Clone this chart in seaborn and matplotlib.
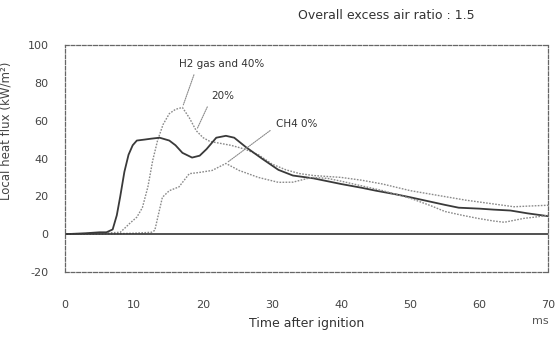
import matplotlib
matplotlib.use("Agg")
import matplotlib.pyplot as plt
import seaborn as sns
import pandas as pd

# ---- data ----
t_20 = [0, 3, 5, 6, 6.9, 7.5, 8, 8.6, 9.2, 9.8, 10.4, 11.5, 12.5, 13.7, 15.1, 16, 17,
        18.4, 19.5, 20.5, 21.9, 23.3, 24.5, 26.2, 28.5, 30.9, 33, 36, 38, 40, 43, 45,
        48, 50, 52.5, 55, 57, 60, 62, 64.5, 67, 70]
v_20 = [0, 0.5, 1, 1, 2.5, 10, 20, 33, 42, 47, 49.5, 50, 50.5, 51, 49.5, 47, 43,
        40.5, 41.5, 45, 51, 52, 51, 46, 40, 34, 31, 29.5, 28, 26.5, 24.5, 23,
        21, 19.5, 17.5, 15.5, 14, 13.5, 13, 12.5, 11, 9.5]

t_h2 = [0, 5, 8, 8.6, 9.4, 10.4, 11.2, 12, 12.7, 13.4, 14.2, 15.1, 16, 17, 18, 19,
        20, 21, 22.5, 24, 26, 28, 30, 32, 34, 36, 38, 40, 43, 46, 50, 54, 58, 62,
        65, 68, 70]
v_h2 = [0, 0.5, 1, 3, 5.8, 9, 14, 25, 39, 49.5, 58, 63.7, 66, 67, 61.5, 54.7,
        51, 49, 48, 47, 45, 42, 37, 34, 32, 31, 30.5, 30, 28.5, 26.5, 23, 20.5, 18, 16,
        14.5, 15, 15.3]

t_ch4 = [0, 5, 10, 12.5, 13, 13.5, 14.1, 15.1, 16.5, 18, 19.4, 21.3, 23.3, 25.2, 28,
         30.9, 33, 35.7, 38, 40, 43, 46, 50, 53, 55, 57.5, 59.7, 62, 63.6, 66.5, 68, 70]
v_ch4 = [0, 0, 0.5, 1, 2, 10, 19.5, 23, 25, 32, 32.6, 33.7, 37.4, 33.7, 30,
         27.4, 27.5, 30, 29.5, 28, 25.5, 23, 19, 15, 12, 10, 8.4, 7, 6.3, 8.4, 9, 10]

series_names = ["H2 gas and 40%", "20%", "CH4 0%"]
x_ticks = [0, 10, 20, 30, 40, 50, 60, 70]
y_ticks = [-20, 0, 20, 40, 60, 80, 100]

df = pd.concat([
    pd.DataFrame({"t": t_h2, "v": v_h2, "s": series_names[0]}),
    pd.DataFrame({"t": t_20, "v": v_20, "s": series_names[1]}),
    pd.DataFrame({"t": t_ch4, "v": v_ch4, "s": series_names[2]}),
])

sns.set_style("white")
plt.rcParams["font.family"] = ["DejaVu Sans"]

fig = plt.figure(figsize=(5.57, 3.41), dpi=100)
ax = fig.add_axes([0.1167, 0.2023, 0.868, 0.6657])

styles = {
    series_names[0]: dict(color="#8a8a8a", lw=1.0, ls=(0, (1.2, 1.0))),
    series_names[1]: dict(color="#3a3a3a", lw=1.3, ls="-"),
    series_names[2]: dict(color="#8a8a8a", lw=1.0, ls=(0, (1.2, 1.0))),
}
for name in series_names:
    sub = df[df["s"] == name]
    st = styles[name]
    sns.lineplot(data=sub, x="t", y="v", ax=ax, color=st["color"],
                 linewidth=st["lw"], linestyle=st["ls"], legend=False)

ax.axhline(0, color="#333333", lw=1.2)

ax.set_xlim(0, 70)
ax.set_ylim(-20, 100)
ax.set_xticks(x_ticks)
ax.set_yticks(y_ticks)
ax.set_xticklabels([str(v) for v in x_ticks], fontsize=8, color="#444444")
ax.set_yticklabels([str(v) for v in y_ticks], fontsize=8, color="#444444")
ax.tick_params(axis="x", direction="in", length=3, pad=20, color="#777777")
ax.tick_params(axis="y", direction="in", length=3, pad=12, color="#777777")
for sp in ax.spines.values():
    sp.set_color("#666666")
    sp.set_linewidth(0.9)
    sp.set_linestyle((0, (3, 1.5)))

ax.set_xlabel("Time after ignition", fontsize=9, color="#333333")
ax.xaxis.set_label_coords(0.5, -0.2)
ax.set_ylabel("Local heat flux (kW/m²)", fontsize=8.5, color="#444444")
ax.yaxis.set_label_coords(-0.108, 0.62)

fig.text(0.97, 0.05, "ms", fontsize=8, color="#555555", ha="center")
fig.text(0.535, 0.945, "Overall excess air ratio : 1.5", fontsize=9,
         color="#333333", ha="left")

leader = dict(arrowstyle="-", color="#8a8a8a", lw=0.8, linestyle=(0, (1, 1)))
ax.annotate(series_names[0], xy=(17, 67), xytext=(16.5, 90), fontsize=7.5,
            color="#333333", ha="left", va="center",
            arrowprops=dict(leader, relpos=(0.2, 0)))
ax.annotate(series_names[1], xy=(19, 54.7), xytext=(21.2, 73), fontsize=7.5,
            color="#333333", ha="left", va="center",
            arrowprops=dict(leader, relpos=(0.0, 0.3)))
ax.annotate(series_names[2], xy=(23.3, 37.4), xytext=(30.5, 58), fontsize=7.5,
            color="#333333", ha="left", va="center",
            arrowprops=dict(leader, relpos=(0.0, 0.3)))

fig.savefig("out.png", dpi=100)
